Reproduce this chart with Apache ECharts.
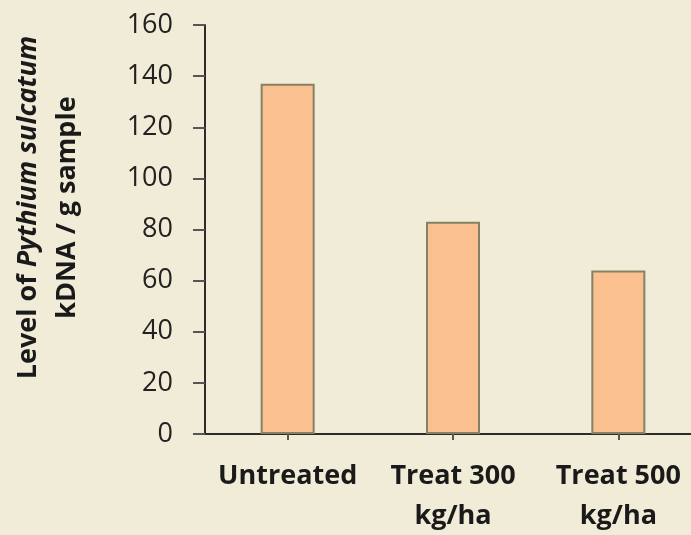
<!DOCTYPE html>
<html>
<head>
<meta charset="utf-8">
<script src="https://cdn.jsdelivr.net/npm/echarts@6/dist/echarts.min.js"></script>
<style>
  html, body { margin: 0; padding: 0; background: #F1ECD7; }
  #chart { width: 691px; height: 535px; }
</style>
</head>
<body>
<div id="chart"></div>
<script>
// Treatment groups and measured pathogen DNA levels
const categories = ['Untreated', 'Treat 300\nkg/ha', 'Treat 500\nkg/ha'];
const levels = [137, 83, 64];
const yTicks = { min: 0, max: 160, interval: 20 };

const chart = echarts.init(document.getElementById('chart'));
const font = '"Open Sans", "Noto Sans", sans-serif';

chart.setOption({
  backgroundColor: '#F1ECD7',
  animation: false,
  grid: { left: 205, top: 25, bottom: 101, width: 496, containLabel: false, outerBoundsMode: 'none' },
  xAxis: {
    type: 'category',
    data: categories,
    axisLine: { lineStyle: { color: '#2b2b2b', width: 2 } },
    axisTick: { show: true, alignWithLabel: true, length: 6, lineStyle: { color: '#555', width: 2 } },
    axisLabel: {
      color: '#1a1a1a', fontFamily: font, fontWeight: 'bold', fontSize: 27,
      lineHeight: 40, margin: 22, interval: 0
    }
  },
  yAxis: {
    type: 'value',
    min: yTicks.min, max: yTicks.max, interval: yTicks.interval,
    splitLine: { show: false },
    axisLine: { show: true, lineStyle: { color: '#2b2b2b', width: 2 } },
    axisTick: { show: true, length: 12, lineStyle: { color: '#555', width: 2 } },
    axisLabel: { color: '#222', fontFamily: font, fontSize: 27, margin: 32 },
    name: '{b|Level of }{i|Pythium sulcatum}\n{b|kDNA / g sample}',
    nameLocation: 'middle',
    nameRotate: 90,
    nameGap: 118,
    nameTextStyle: {
      fontFamily: font, fontWeight: 'bold', fontSize: 27,
      lineHeight: 39,
      padding: [0, 0, 0, 44],
      rich: {
        b: { fontFamily: font, fontWeight: 'bold', fontSize: 27, color: '#1a1a1a', lineHeight: 39 },
        i: { fontFamily: font, fontWeight: 'bold', fontStyle: 'italic', fontSize: 27, color: '#1a1a1a', lineHeight: 39 }
      }
    }
  },
  series: [{
    type: 'bar',
    data: levels,
    barWidth: 54,
    itemStyle: { color: '#FAC08F', borderColor: '#858163', borderWidth: 2 }
  }]
});
</script>
</body>
</html>
